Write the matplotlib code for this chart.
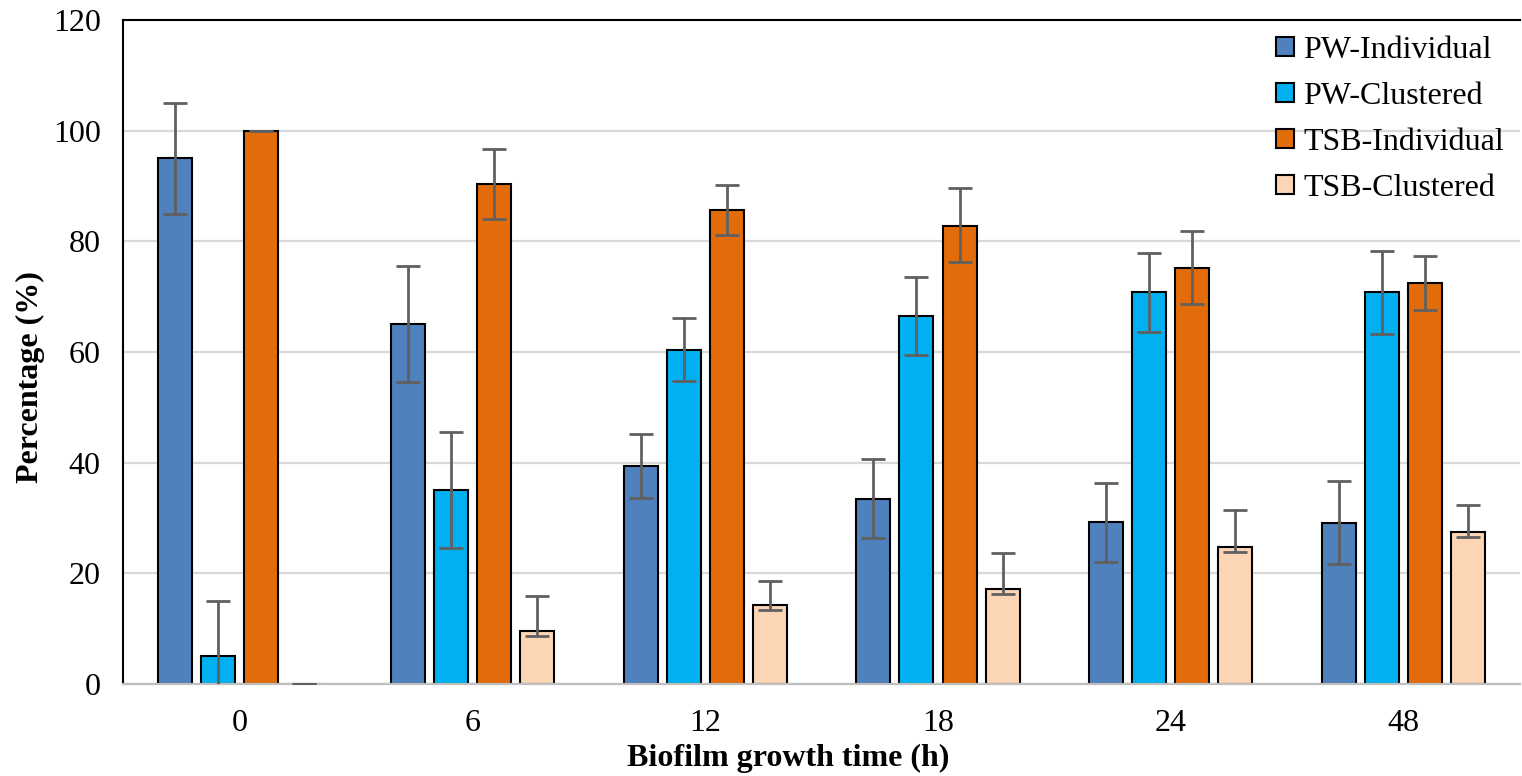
import numpy as np
import matplotlib.pyplot as plt

plt.rcParams['font.family'] = ['Liberation Serif', 'DejaVu Serif']

# growth times and measured percentages
times = ["0", "6", "12", "18", "24", "48"]
series = ["PW-Individual", "PW-Clustered", "TSB-Individual", "TSB-Clustered"]

pw_ind = [95.0, 65.1, 39.4, 33.5, 29.2, 29.1]
pw_clu = [5.0, 35.0, 60.4, 66.5, 70.8, 70.8]
tsb_ind = [100.0, 90.3, 85.7, 82.7, 75.2, 72.4]
tsb_clu = [0.0, 9.6, 14.3, 17.1, 24.8, 27.5]

# error bars (lower, upper)
pw_ind_lo = [10.0, 10.5, 5.7, 7.1, 7.2, 7.5]
pw_ind_hi = [10.0, 10.5, 5.7, 7.1, 7.2, 7.5]
pw_clu_lo = [10.0, 10.5, 5.7, 7.0, 7.2, 7.5]
pw_clu_hi = [10.0, 10.5, 5.8, 7.1, 7.1, 7.5]
tsb_ind_lo = [0.0, 6.3, 4.5, 6.5, 6.6, 4.9]
tsb_ind_hi = [0.0, 6.4, 4.5, 6.9, 6.6, 4.9]
tsb_clu_lo = [0.0, 1.0, 1.0, 0.9, 1.0, 1.0]
tsb_clu_hi = [0.0, 6.3, 4.4, 6.6, 6.6, 4.9]

values = [pw_ind, pw_clu, tsb_ind, tsb_clu]
errs_lo = [pw_ind_lo, pw_clu_lo, tsb_ind_lo, tsb_clu_lo]
errs_hi = [pw_ind_hi, pw_clu_hi, tsb_ind_hi, tsb_clu_hi]
colors = ["#4f81bd", "#00b0f0", "#e36c0a", "#fcd5b5"]

fig = plt.figure(figsize=(15.22, 7.76), dpi=100)
ax = fig.add_axes([0.0808, 0.1186, 0.918, 0.8556])

x = np.arange(len(times))
step = 0.185
width = 0.146
for i, (vals, lo, hi, c, name) in enumerate(zip(values, errs_lo, errs_hi, colors, series)):
    xs = x + (i - 1.5) * step
    ax.bar(xs, vals, width, color=c, edgecolor="black", linewidth=1.5,
           label=name, zorder=2)
    ax.errorbar(xs, vals, yerr=[lo, hi], fmt="none", ecolor="#606060",
                elinewidth=2, capsize=8.5, capthick=2, zorder=3)

ax.set_xlim(-0.5, len(times) - 0.5)
ax.set_ylim(0, 120)
ax.set_yticks(np.arange(0, 121, 20))
ax.set_xticks(x)
ax.set_xticklabels(times)
ax.tick_params(axis="both", length=0, labelsize=23)
ax.tick_params(axis="y", pad=16)
ax.tick_params(axis="x", pad=18)

ax.yaxis.grid(True, color="#d9d9d9", linewidth=1.6, zorder=0)
ax.set_axisbelow(True)

ax.spines["right"].set_visible(False)
ax.spines["left"].set_color("black")
ax.spines["left"].set_linewidth(1.5)
ax.spines["top"].set_color("black")
ax.spines["top"].set_linewidth(1.5)
ax.spines["bottom"].set_color("#bfbfbf")
ax.spines["bottom"].set_linewidth(1.6)

ax.set_ylabel("Percentage (%)", fontsize=23, fontweight="bold")
ax.set_xlabel("Biofilm growth time (h)", fontsize=23, fontweight="bold")
ax.xaxis.set_label_coords(0.476, -0.09)
ax.yaxis.set_label_coords(-0.056, 0.462)

ax.legend(loc="upper right", fontsize=23, frameon=False, handlelength=0.55,
          handleheight=0.55, handletextpad=0.3, labelspacing=0.53,
          borderaxespad=0.1, bbox_to_anchor=(1.0, 1.0))

fig.savefig("out.png", dpi=100, facecolor="white")
